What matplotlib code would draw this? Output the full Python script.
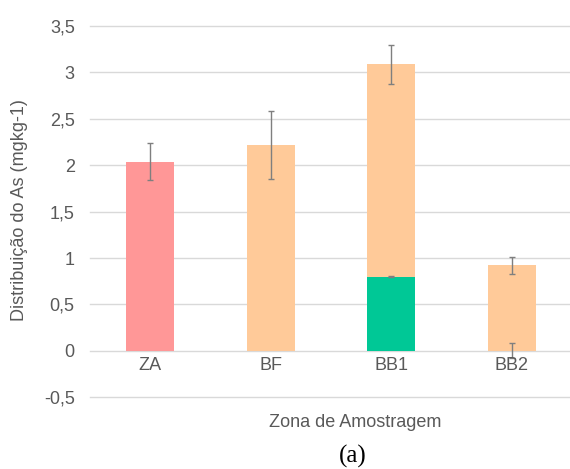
import matplotlib
matplotlib.use("Agg")
import matplotlib.pyplot as plt
import numpy as np

# dados
zonas = ['ZA', 'BF', 'BB1', 'BB2']
base = [2.04, 2.22, 0.80, 0.0]
base_err = [0.20, 0.365, 0.005, 0.08]
topo = [0.0, 0.0, 2.29, 0.92]
topo_err = [0.0, 0.0, 0.21, 0.09]
cores_base = ['#FF9797', '#FFCA99', '#00C896', '#FFCA99']
cor_topo = '#FFCA99'
yticks = [-0.5, 0, 0.5, 1, 1.5, 2, 2.5, 3, 3.5]

plt.rcParams['font.family'] = ['Liberation Sans', 'DejaVu Sans']
cinza = '#595959'

fig = plt.figure(figsize=(5.7, 4.69), dpi=100)
ax = fig.add_axes([90/570, 1-397.3/469, 482/570, (397.3-26)/469])

x = np.arange(len(zonas))
ax.bar(x, base, width=0.4, color=cores_base, zorder=2)
ax.bar(x, topo, width=0.4, bottom=base, color=cor_topo, zorder=2)

ebk = dict(fmt='none', ecolor='#7F7F7F', elinewidth=1, capsize=2.5, capthick=1, zorder=3)
ax.errorbar(x, base, yerr=base_err, **ebk)
m = np.array(topo) > 0
ax.errorbar(x[m], (np.array(base) + np.array(topo))[m], yerr=np.array(topo_err)[m], **ebk)

ax.set_xlim(-0.5, 3.5)
ax.set_ylim(-0.5, 3.5)
ax.set_yticks(yticks)
ax.set_yticklabels([('%g' % v).replace('.', ',') for v in yticks], color=cinza, fontsize=13)
ax.set_xticks([])
ax.grid(axis='y', color='#D9D9D9', linewidth=1, zorder=0)
for gl in ax.get_ygridlines():
    gl.set_clip_on(False)
ax.tick_params(axis='y', length=0, pad=11)
for s in ax.spines.values():
    s.set_visible(False)

for i, z in enumerate(zonas):
    ax.text(i, -0.16, z, ha='center', va='center', color=cinza, fontsize=13)

fig.text(20/570, 1-210.5/469, 'Distribuição do As (mgkg-1)', rotation=90,
         ha='center', va='center', color=cinza, fontsize=13)
fig.text(355.5/570, 1-422.7/469, 'Zona de Amostragem', ha='center', va='center',
         color=cinza, fontsize=13)
fig.text(353/570, 1-456/469, '(a)', ha='center', va='center',
         fontfamily='Liberation Serif', fontsize=18, color='black')

fig.savefig('out.png', dpi=100)
